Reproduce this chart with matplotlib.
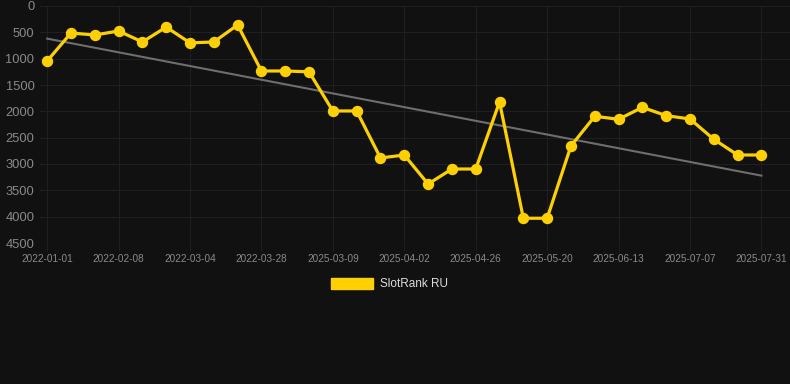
import matplotlib
matplotlib.use("Agg")
import matplotlib.pyplot as plt
import matplotlib.patches as mpatches
import numpy as np

dates = ["2022-01-01", "2022-01-14", "2022-01-26", "2022-02-08", "2022-02-16", "2022-02-24",
         "2022-03-04", "2022-03-12", "2022-03-20", "2022-03-28", "2025-02-14", "2025-02-26",
         "2025-03-09", "2025-03-17", "2025-03-25", "2025-04-02", "2025-04-10", "2025-04-18",
         "2025-04-26", "2025-05-04", "2025-05-12", "2025-05-20", "2025-05-28", "2025-06-05",
         "2025-06-13", "2025-06-21", "2025-06-29", "2025-07-07", "2025-07-15", "2025-07-23",
         "2025-07-31"]
rank = [1045, 513, 550, 475, 683, 400, 700, 683, 360, 1234, 1234, 1250,
        1993, 1993, 2886, 2829, 3380, 3095, 3095, 1823, 4030, 4030, 2658,
        2094, 2151, 1924, 2082, 2145, 2531, 2829, 2829]
tick_labels = ["2022-01-01", "2022-02-08", "2022-03-04", "2022-03-28", "2025-03-09",
               "2025-04-02", "2025-04-26", "2025-05-20", "2025-06-13", "2025-07-07",
               "2025-07-31"]
y_ticks = [0, 500, 1000, 1500, 2000, 2500, 3000, 3500, 4000, 4500]
series_name = "SlotRank RU"

bg = "#111111"
gold = "#FFD000"
grid_c = "#1f1f1f"

fig = plt.figure(figsize=(7.9, 3.84), dpi=100, facecolor=bg)
ax = fig.add_axes([40 / 790, (384 - 243) / 384, 750 / 790, 237 / 384])
ax.set_facecolor(bg)

x = np.arange(len(rank))
coef = np.polyfit(x, rank, 1)
ax.plot(x, np.polyval(coef, x), color="#6e6e6e", lw=1.5, zorder=2)
ax.plot(x, rank, color=gold, lw=2.3, marker="o", ms=7.2, zorder=3)

ax.set_ylim(4500, 0)
ax.set_xlim(-0.3, 31.2)
ax.set_yticks(y_ticks)
ax.set_yticklabels([str(v) for v in y_ticks])
tick_pos = [dates.index(t) for t in tick_labels]
ax.set_xticks(tick_pos)
ax.set_xticklabels(tick_labels)

for s in ax.spines.values():
    s.set_visible(False)
ax.grid(True, color=grid_c, lw=0.8)
ax.tick_params(axis="y", colors="#8a8a8a", labelsize=9.3, length=0, pad=4)
ax.tick_params(axis="x", colors="#8a8a8a", labelsize=7.2, length=6, width=0.8,
               color=grid_c, pad=2)
for lab in ax.get_xticklabels() + ax.get_yticklabels():
    lab.set_fontfamily("Liberation Sans")
ax.axhline(4500, color="#2a2a2a", lw=0.8)

handle = mpatches.Patch(color=gold, label=series_name)
leg = fig.legend(handles=[handle], loc="center", bbox_to_anchor=(0.493, 0.26),
                 frameon=False, handlelength=3.6, handleheight=1.0,
                 prop={"family": "Liberation Sans", "size": 8.5}, handletextpad=0.6)
for t in leg.get_texts():
    t.set_color("#dddddd")

fig.savefig("out.png", dpi=100, facecolor=bg)
